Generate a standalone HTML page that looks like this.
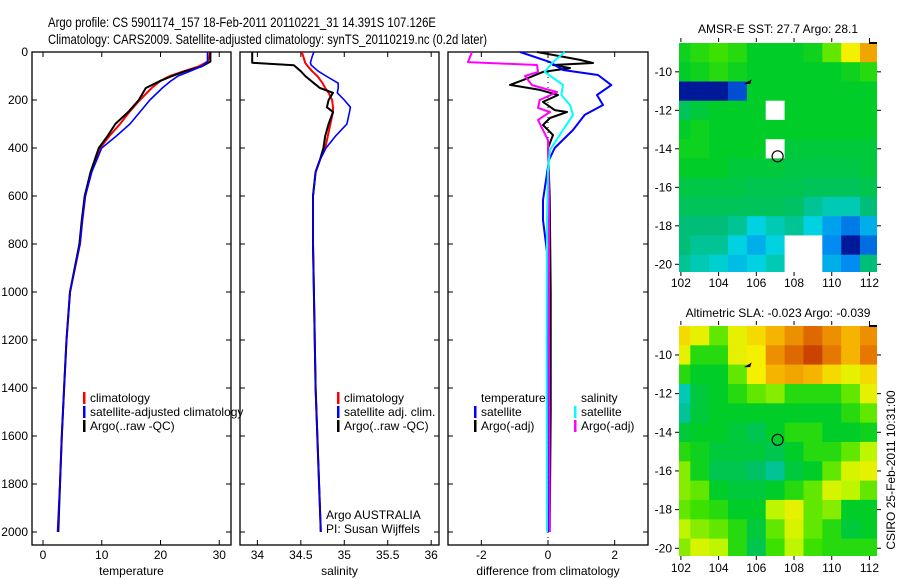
<!DOCTYPE html>
<html><head><meta charset="utf-8"><style>
body{margin:0;background:#fff;}
svg{display:block;font-family:"Liberation Sans",sans-serif;}
text{fill:#000;}
</style></head><body>
<svg id="fig" width="900" height="580" viewBox="0 0 900 580" xmlns="http://www.w3.org/2000/svg">
<rect width="900" height="580" fill="#fff"/>
<text x="48" y="27" font-size="14" textLength="388" lengthAdjust="spacingAndGlyphs">Argo profile: CS 5901174_157 18-Feb-2011 20110221_31 14.391S 107.126E</text>
<text x="48" y="44" font-size="14" textLength="439" lengthAdjust="spacingAndGlyphs">Climatology: CARS2009. Satellite-adjusted climatology: synTS_20110219.nc (0.2d later)</text>
<g id="g"></g>
</svg>
<script>
// ---- temperature panel data ----
const tDepth=[0,20,40,60,80,100,120,150,200,250,300,350,400,500,600,700,800,1000,1200,1400,1600,1800,2000];
const tClim=[28.4,28.3,28,26.5,24,21.6,20,18.5,16.5,14.7,13.1,11.3,9.7,8.2,7.2,6.7,6.3,4.6,4.0,3.6,3.2,2.9,2.5];
const tSat=[28.0,28.0,28.0,27,25,23,21.8,20.3,18.2,16.5,14.8,12.5,10.0,8.3,7.2,6.7,6.3,4.6,4.0,3.6,3.2,2.9,2.5];
const tArgo=[28.5,28.5,28.5,27,24.2,22,20,17.5,16.3,14.5,12.3,11.0,9.5,8.1,7.1,6.6,6.2,4.6,4.0,3.6,3.2,2.9,2.6];
const tTicks=[0,10,20,30];
// ---- salinity panel data ----
const sDepth=[0,20,45,55,80,100,130,150,170,200,230,250,300,350,400,450,500,600,800,1000,1400,2000];
const sArgo=[33.94,33.94,33.94,34.42,34.5,34.55,34.65,34.72,34.87,34.82,34.8,34.87,34.82,34.78,34.76,34.72,34.67,34.64,34.64,34.65,34.67,34.73];
const sClim=[34.51,34.53,34.55,34.57,34.63,34.69,34.75,34.78,34.82,34.86,34.87,34.87,34.84,34.81,34.78,34.72,34.67,34.64,34.64,34.65,34.67,34.73];
const sSat=[34.65,34.63,34.61,34.62,34.7,34.79,34.93,34.93,34.92,35.0,35.07,35.06,35.03,34.9,34.79,34.72,34.67,34.64,34.64,34.65,34.67,34.73];
const sTicks=[34,34.5,35,35.5,36];
// ---- difference panel data ----
const dTSatDepth=[0,42,75,96,138,179,221,262,325,400,450,617,700,867,2000];
const dTSat=[-0.84,0.06,0.45,1.5,1.9,1.47,1.65,1.1,0.75,0.2,0.03,-0.15,-0.15,0,0.03];
const dTArgoDepth=[0,33,46,54,67,83,117,137,158,179,208,242,250,275,304,346,400,600,1000,1500,2000];
const dTArgo=[-0.33,0.96,1.35,0.15,0.66,-0.15,-0.75,-1.14,-0.24,0.3,-0.15,0.2,0.57,0.06,-0.15,0.15,0,0.05,0.08,0.08,0.05];
const dSSatDepth=[0,42,83,137,179,221,262,325,408,492,700,1200,2000];
const dSSat=[0.5,0.15,-0.1,0.45,0.4,0.66,0.75,0.45,0.06,0,-0.03,-0.04,-0.03];
const dSArgoDepth=[0,42,54,83,100,138,167,200,233,250,283,317,367,600,1200,2000];
const dSArgo=[-2.28,-2.4,-0.33,-0.3,-0.69,-0.48,0.27,-0.25,-0.3,0.06,-0.3,-0.18,0,0.03,0.03,0.05];
const dTicks=[-2,0,2];
const depthTicks=[0,200,400,600,800,1000,1200,1400,1600,1800,2000];
// ---- maps (normalized colour value 0..1, null = missing) ----
const mapLons=[102,103,104,105,106,107,108,109,110,111,112];
const mapLats=[-9,-10,-11,-12,-13,-14,-15,-16,-17,-18,-19,-20];
const sstGrid=[
[0.52,0.55,0.58,0.55,0.5,0.5,0.5,0.52,0.6,0.72,0.82],
[0.5,0.52,0.55,0.52,0.5,0.5,0.5,0.5,0.5,0.52,0.55],
[0.05,0.05,0.05,0.15,0.5,0.5,0.5,0.5,0.5,0.5,0.5],
[0.45,0.48,0.5,0.5,0.5,null,0.5,0.5,0.5,0.5,0.5],
[0.5,0.52,0.5,0.5,0.5,0.5,0.5,0.5,0.5,0.5,0.5],
[0.52,0.52,0.5,0.5,0.5,null,0.48,0.48,0.48,0.48,0.48],
[0.5,0.5,0.5,0.48,0.48,0.48,0.47,0.47,0.47,0.47,0.48],
[0.47,0.47,0.47,0.47,0.46,0.46,0.46,0.45,0.45,0.45,0.46],
[0.45,0.45,0.45,0.45,0.45,0.45,0.44,0.4,0.38,0.38,0.42],
[0.42,0.42,0.42,0.4,0.35,0.38,0.4,0.35,0.28,0.22,0.3],
[0.42,0.4,0.4,0.35,0.3,0.35,null,null,0.25,0.05,0.2],
[0.4,0.38,0.36,0.32,0.35,0.38,null,null,0.3,0.25,0.42]];
const slaGrid=[
[0.75,0.7,0.6,0.7,0.75,0.8,0.85,0.9,0.85,0.8,0.85],
[0.7,0.55,0.55,0.7,0.72,0.85,0.9,0.95,0.88,0.8,0.88],
[0.55,0.5,0.5,0.6,0.72,0.8,0.82,0.8,0.75,0.7,0.75],
[0.38,0.48,0.5,0.55,0.6,0.62,0.55,0.55,0.55,0.6,0.7],
[0.4,0.48,0.5,0.5,0.5,0.5,0.5,0.5,0.5,0.55,0.6],
[0.48,0.5,0.5,0.48,0.46,0.5,0.55,0.55,0.5,0.5,0.52],
[0.55,0.52,0.48,0.48,0.48,0.46,0.5,0.55,0.55,0.6,0.65],
[0.62,0.52,0.46,0.46,0.44,0.4,0.48,0.5,0.6,0.68,0.7],
[0.62,0.6,0.5,0.48,0.48,0.5,0.55,0.6,0.68,0.65,0.6],
[0.6,0.58,0.55,0.5,0.5,0.65,0.7,0.6,0.62,0.5,0.5],
[0.65,0.62,0.6,0.55,0.48,0.6,0.68,0.6,0.55,0.48,0.5],
[0.62,0.68,0.65,0.55,0.46,0.58,0.65,0.58,0.55,0.55,0.55]];
const lonTicks=[102,104,106,108,110,112];
const latTicks=[-10,-12,-14,-16,-18,-20];
const floatLon=107.13, floatLat=-14.39;

const NS='http://www.w3.org/2000/svg';
const G=document.getElementById('g');
function mk(tag,attrs,parent){const e=document.createElementNS(NS,tag);for(const k in attrs)e.setAttribute(k,attrs[k]);(parent||G).appendChild(e);return e;}
function txt(x,y,s,size,anchor,parent){const e=mk('text',{x:x,y:y,'font-size':size||12,'text-anchor':anchor||'start'},parent);e.textContent=s;return e;}

const PT=52,PB=545;
const yD=d=>52+d*0.24;
function panel(name,x0,x1,xmin,xmax,ticks,label,showDepth){
  const g=mk('g',{});
  
  
  const sx=v=>x0+(v-xmin)/(xmax-xmin)*(x1-x0);
  mk('rect',{x:x0,y:PT,width:x1-x0,height:PB-PT,fill:'none',stroke:'#000','stroke-width':1.3},g);
  ticks.forEach(t=>{const x=sx(t);
    mk('line',{x1:x,y1:PB,x2:x,y2:PB-5,stroke:'#000'},g);
    mk('line',{x1:x,y1:PT,x2:x,y2:PT+5,stroke:'#000'},g);
    const l=txt(x,559,String(t),12,'middle',g);
    
    
  });
  depthTicks.forEach(d=>{const y=yD(d);
    mk('line',{x1:x0,y1:y,x2:x0+5,y2:y,stroke:'#000'},g);
    mk('line',{x1:x1,y1:y,x2:x1-5,y2:y,stroke:'#000'},g);
    if(showDepth){const l=txt(28,y+4,String(d),12,'end',g);
      
      }
  });
  const t=txt((x0+x1)/2,575,label,12,'middle',g);
  
  
  return {g,sx};
}
function line(p,depths,vals,color,w,name){
  const pts=depths.map((d,i)=>p.sx(vals[i]).toFixed(1)+','+yD(d).toFixed(1)).join(' ');
  const e=mk('polyline',{points:pts,fill:'none',stroke:color,'stroke-width':w,'stroke-linejoin':'round'},p.g);
  
  
}
function legend(g,x,y,items){
  items.forEach((it,i)=>{
    const yy=y+i*14;
    if(it.c) mk('rect',{x:x,y:yy-10,width:2.5,height:12,fill:it.c},g);
    const t=txt(x+7,yy,it.t,12,'start',g);
    
    
  });
}
// temperature
const pT=panel('temperature',32,231,-1.87,32.0,tTicks,'temperature',true);
line(pT,tDepth,tClim,'#f00',2,'temperature-climatology-line');
line(pT,tDepth,tArgo,'#000',2,'temperature-argo-line');
line(pT,tDepth,tSat,'#00f',1.6,'temperature-satellite-line');
legend(pT.g,83,402,[{c:'#f00',t:'climatology'},{c:'#00f',t:'satellite-adjusted climatology'},{c:'#000',t:'Argo(..raw -QC)'}]);
// salinity
const pS=panel('salinity',240,439,33.8,36.09,sTicks,'salinity',false);
line(pS,sDepth,sClim,'#f00',2,'salinity-climatology-line');
line(pS,sDepth,sArgo,'#000',2,'salinity-argo-line');
line(pS,sDepth,sSat,'#00f',1.6,'salinity-satellite-line');
legend(pS.g,337,402,[{c:'#f00',t:'climatology'},{c:'#00f',t:'satellite adj. clim.'},{c:'#000',t:'Argo(..raw -QC)'}]);
{const a=txt(326,519,'Argo AUSTRALIA',12,'start',pS.g);
 const b=txt(326,533,'PI: Susan Wijffels',12,'start',pS.g);}
// difference
const pD=panel('difference',448,648,-3,3,dTicks,'difference from climatology',false);
mk('line',{x1:pD.sx(0),y1:PT,x2:pD.sx(0),y2:PB,stroke:'#000','stroke-dasharray':'1,4'},pD.g);
line(pD,dTArgoDepth,dTArgo,'#000',2,'temp-argo-diff-line');
line(pD,dTSatDepth,dTSat,'#00f',2,'temp-satellite-diff-line');
line(pD,dSArgoDepth,dSArgo,'#f0f',2,'sal-argo-diff-line');
line(pD,dSSatDepth,dSSat,'#0ff',2,'sal-satellite-diff-line');
legend(pD.g,474,402,[{c:null,t:'temperature'},{c:'#00f',t:'satellite'},{c:'#000',t:'Argo(-adj)'}]);
legend(pD.g,574,402,[{c:null,t:'salinity'},{c:'#0ff',t:'satellite'},{c:'#f0f',t:'Argo(-adj)'}]);

// colour map
const stops=[[0,[0,0,120]],[0.12,[0,60,200]],[0.25,[0,140,240]],[0.35,[0,210,225]],[0.42,[0,190,120]],[0.5,[0,205,40]],[0.58,[60,225,0]],[0.65,[190,245,0]],[0.72,[245,240,0]],[0.8,[245,180,0]],[0.88,[230,120,0]],[1,[180,30,0]]];
function cmap(v){for(let i=1;i<stops.length;i++){if(v<=stops[i][0]){const a=stops[i-1],b=stops[i];const f=(v-a[0])/(b[0]-a[0]);const c=a[1].map((q,k)=>Math.round(q+(b[1][k]-q)*f));return 'rgb('+c.join(',')+')';}}return 'rgb(180,30,0)';}

function map(name,x0,x1,y0,y1,lon0,lon1,lat0,lat1,grid,title,titleY,labelY){
  const g=mk('g',{});
  
  
  const sx=lo=>x0+(lo-lon0)/(lon1-lon0)*(x1-x0);
  const sy=la=>y0+(lat0-la)/(lat0-lat1)*(y1-y0);
  const cp=mk('clipPath',{id:'cp'+name},g);
  mk('rect',{x:x0,y:y0,width:x1-x0,height:y1-y0},cp);
  const cg=mk('g',{'clip-path':'url(#cp'+name+')'},g);
  grid.forEach((row,r)=>row.forEach((v,c)=>{
    const lo=mapLons[c],la=mapLats[r];
    const xa=sx(lo-0.5),xb=sx(lo+0.5),ya=sy(la+0.5),yb=sy(la-0.5);
    const e=mk('rect',{x:xa.toFixed(1),y:ya.toFixed(1),width:(xb-xa+0.5).toFixed(1),height:(yb-ya+0.5).toFixed(1),fill:v===null?'#fff':cmap(v)},cg);
    
    
  }));
  mk('line',{x1:x1-8,y1:y0+1,x2:x1,y2:y0+1,stroke:'#000','stroke-width':2},g);
  lonTicks.forEach(t=>{const x=sx(t);
    mk('line',{x1:x,y1:y1,x2:x,y2:y1+4,stroke:'#000'},g);
    mk('line',{x1:x,y1:y0,x2:x,y2:y0-4,stroke:'#000'},g);
    const l=txt(x,labelY,String(t),12,'middle',g);
    
    
  });
  latTicks.forEach(t=>{const y=sy(t);
    mk('line',{x1:x0,y1:y,x2:x0-4,y2:y,stroke:'#000'},g);
    mk('line',{x1:x1,y1:y,x2:x1+4,y2:y,stroke:'#000'},g);
    const l=txt(x0-7,y+4,String(t),12,'end',g);
    
    
  });
  const c=mk('circle',{cx:sx(floatLon),cy:sy(floatLat),r:5.5,fill:'none',stroke:'#000','stroke-width':1.2},g);
  
  
  mk('path',{d:'M'+(sx(105.6)-3)+' '+(sy(-10.5)+2)+' l5 -3 l-1 3 z',fill:'#000',stroke:'#000'},g);
  const t=txt((x0+x1)/2,titleY,title,12,'middle',g);
  
  
}
map('sst',679,877,42,272,101.9,112.4,-8.45,-20.4,sstGrid,'AMSR-E SST: 27.7 Argo: 28.1',33,287);
map('sla',679,877,325,556,101.9,112.4,-8.45,-20.4,slaGrid,'Altimetric SLA: -0.023 Argo: -0.039',317,572);
{const t=txt(0,0,'CSIRO 25-Feb-2011 10:31:00',12,'middle');t.setAttribute('transform','translate(895,470) rotate(-90)');
 }
</script>
</body></html>
